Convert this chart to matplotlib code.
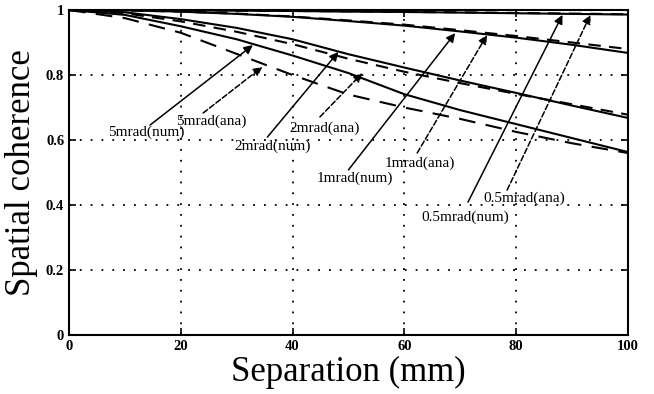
import matplotlib
matplotlib.use("Agg")
import matplotlib.pyplot as plt

# Separation (mm)
separation = [0, 10, 20, 30, 40, 50, 60, 70, 80, 90, 100]

# Spatial coherence, numerical (solid) and analytical (dashed)
num_05mrad = [1.0, 1.0, 0.999, 0.998, 0.997, 0.995, 0.994, 0.992, 0.990, 0.988, 0.986]
ana_05mrad = [1.0, 1.0, 0.999, 0.998, 0.997, 0.996, 0.994, 0.993, 0.991, 0.989, 0.987]
num_1mrad = [1.0, 0.999, 0.995, 0.988, 0.979, 0.966, 0.952, 0.934, 0.915, 0.893, 0.868]
ana_1mrad = [1.0, 0.999, 0.995, 0.989, 0.980, 0.968, 0.955, 0.938, 0.920, 0.900, 0.880]
num_2mrad = [1.0, 0.993, 0.972, 0.945, 0.910, 0.864, 0.823, 0.783, 0.745, 0.706, 0.668]
ana_2mrad = [1.0, 0.990, 0.965, 0.933, 0.895, 0.850, 0.810, 0.775, 0.742, 0.710, 0.678]
num_5mrad = [1.0, 0.985, 0.950, 0.910, 0.860, 0.806, 0.741, 0.692, 0.649, 0.606, 0.563]
ana_5mrad = [1.0, 0.975, 0.930, 0.865, 0.800, 0.740, 0.700, 0.665, 0.625, 0.590, 0.560]

# Annotation labels
labels = ["5mrad(num)", "5mrad(ana)", "2mrad(num)", "2mrad(ana)",
          "1mrad(num)", "1mrad(ana)", "0.5mrad(ana)", "0.5mrad(num)"]

x_ticks = [0, 20, 40, 60, 80, 100]
x_tick_labels = ["0", "20", "40", "60", "80", "100"]
y_ticks = [0, 0.2, 0.4, 0.6, 0.8, 1.0]
y_tick_labels = ["0", "0.2", "0.4", "0.6", "0.8", "1"]

plt.rcParams['font.family'] = ['Liberation Serif', 'DejaVu Serif']

fig = plt.figure(figsize=(6.54, 3.94), dpi=100)
ax = fig.add_axes([0.1055, 0.1497, 0.8545, 0.8249])

dash = (0, (6, 4))
longdash = (0, (8, 5))
ax.plot(separation, num_05mrad, color='black', lw=1.5)
ax.plot(separation, ana_05mrad, color='black', lw=1.5, linestyle=dash)
ax.plot(separation, num_1mrad, color='black', lw=1.5)
ax.plot(separation, ana_1mrad, color='black', lw=1.5, linestyle=dash)
ax.plot(separation, num_2mrad, color='black', lw=1.5)
ax.plot(separation, ana_2mrad, color='black', lw=1.5, linestyle=dash)
ax.plot(separation, num_5mrad, color='black', lw=1.5)
ax.plot(separation, ana_5mrad, color='black', lw=1.5, linestyle=longdash)

ax.set_xlim(0, 100)
ax.set_ylim(0, 1)
ax.set_xticks(x_ticks)
ax.set_xticklabels(x_tick_labels)
ax.set_yticks(y_ticks)
ax.set_yticklabels(y_tick_labels)
ax.grid(True, color='black', linestyle=(0, (1, 5)), linewidth=1.3)
ax.tick_params(direction='in', length=5, width=1.2, top=True, right=True,
               labelsize=10.5)
for lab in ax.get_xticklabels() + ax.get_yticklabels():
    lab.set_fontweight('bold')
for s in ax.spines.values():
    s.set_linewidth(1.5)

ax.set_xlabel("Separation (mm)", fontsize=25, labelpad=2)
ax.set_ylabel("Spatial coherence", fontsize=25, labelpad=6)

# (text position, arrow start, arrow tip, dashed?)
ann = [
    ((13.9, 0.625), (14.5, 0.646), (32.9, 0.892), False),
    ((25.5, 0.658), (24.0, 0.683), (34.6, 0.825), True),
    ((36.4, 0.582), (35.5, 0.609), (48.2, 0.871), False),
    ((45.7, 0.637), (44.9, 0.671), (52.5, 0.806), True),
    ((51.2, 0.483), (50.0, 0.508), (69.1, 0.929), False),
    ((62.7, 0.529), (62.3, 0.560), (74.8, 0.923), True),
    ((81.5, 0.422), (78.4, 0.446), (93.3, 0.985), True),
    ((70.9, 0.363), (71.4, 0.409), (88.3, 0.985), False),
]
for lab, (tpos, start, tip, dashed) in zip(labels, ann):
    ax.text(tpos[0], tpos[1], lab, ha='center', va='center', fontsize=11)
    ax.annotate("", xy=tip, xytext=start,
                arrowprops=dict(arrowstyle='-|>', color='black', lw=1.1,
                                mutation_scale=13,
                                linestyle='--' if dashed else '-',
                                shrinkA=0, shrinkB=0))

fig.savefig("out.png", dpi=100)
